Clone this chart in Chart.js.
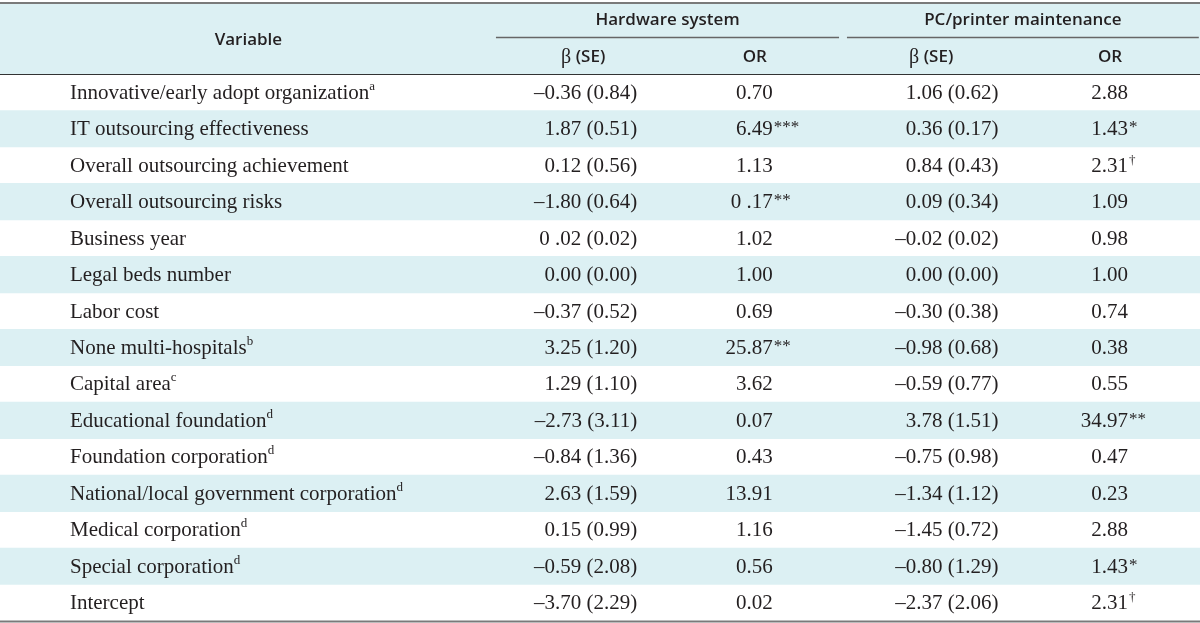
<!DOCTYPE html>
<html>
<head>
<meta charset="utf-8">
<script src="https://cdn.jsdelivr.net/npm/chart.js@4.4.0/dist/chart.umd.min.js"></script>
<style>
html, body { margin: 0; padding: 0; background: #fff; }
#wrap { width: 1200px; height: 623px; }
</style>
</head>
<body>
<div id="wrap"><canvas id="tableChart"></canvas></div>
<script>
// table content
const variables = [
    'Innovative/early adopt organization',
    'IT outsourcing effectiveness',
    'Overall outsourcing achievement',
    'Overall outsourcing risks',
    'Business year',
    'Legal beds number',
    'Labor cost',
    'None multi-hospitals',
    'Capital area',
    'Educational foundation',
    'Foundation corporation',
    'National/local government corporation',
    'Medical corporation',
    'Special corporation',
    'Intercept'
];
const variableNotes = ['a', '', '', '', '', '', '', 'b', 'c', 'd', 'd', 'd', 'd', 'd', ''];

const groups = ['Hardware system', 'PC/printer maintenance'];
const subHeaders = ['β (SE)', 'OR'];

const hwBetaSE = ['–0.36 (0.84)', '1.87 (0.51)', '0.12 (0.56)', '–1.80 (0.64)', '0 .02 (0.02)',
    '0.00 (0.00)', '–0.37 (0.52)', '3.25 (1.20)', '1.29 (1.10)', '–2.73 (3.11)',
    '–0.84 (1.36)', '2.63 (1.59)', '0.15 (0.99)', '–0.59 (2.08)', '–3.70 (2.29)'];
const hwOR = ['0.70', '6.49', '1.13', '0 .17', '1.02', '1.00', '0.69', '25.87', '3.62', '0.07',
    '0.43', '13.91', '1.16', '0.56', '0.02'];
const hwSig = ['', '***', '', '**', '', '', '', '**', '', '', '', '', '', '', ''];

const pcBetaSE = ['1.06 (0.62)', '0.36 (0.17)', '0.84 (0.43)', '0.09 (0.34)', '–0.02 (0.02)',
    '0.00 (0.00)', '–0.30 (0.38)', '–0.98 (0.68)', '–0.59 (0.77)', '3.78 (1.51)',
    '–0.75 (0.98)', '–1.34 (1.12)', '–1.45 (0.72)', '–0.80 (1.29)', '–2.37 (2.06)'];
const pcOR = ['2.88', '1.43', '2.31', '1.09', '0.98', '1.00', '0.74', '0.38', '0.55', '34.97',
    '0.47', '0.23', '2.88', '1.43', '2.31'];
const pcSig = ['', '*', '†', '', '', '', '', '', '', '**', '', '', '', '*', '†'];

// column anchors in percent of the table width
const COL = {
    label: 5.83,
    hwBeta: 53.1, hwOR: 64.4,
    pcBeta: 83.2, pcOR: 94.0,
    varHead: 20.7,
    hwBetaHead: 48.6, hwORHead: 62.9, pcBetaHead: 77.6, pcORHead: 92.5,
    hwLine: [41.33, 69.92], pcLine: [70.58, 99.9]
};

const BAND = '#dcf0f3';
const INK = '#231f20';
const SERIF = '"Liberation Serif", "DejaVu Serif", serif';
const SANS = '"Open Sans", "Noto Sans", sans-serif';
const HEAD_FONT = '600 17px ' + SANS;
const BODY_FONT = '21px ' + SERIF;

// draw a list of [text, font, dy] pieces; align is relative to the whole run
function drawRun(ctx, parts, x, y, align) {
    let total = 0;
    parts.forEach(p => { ctx.font = p[1]; total += ctx.measureText(p[0]).width; });
    let cx = align === 'right' ? x - total : align === 'center' ? x - total / 2 : x;
    ctx.textAlign = 'left';
    parts.forEach(p => {
        ctx.font = p[1];
        ctx.fillText(p[0], cx, y + (p[2] || 0));
        cx += ctx.measureText(p[0]).width;
    });
}

// number right-aligned at x, significance marks hanging to the right
function drawOR(ctx, value, sig, x, y) {
    ctx.font = BODY_FONT;
    ctx.textAlign = 'right';
    ctx.fillText(value, x, y);
    if (sig === '†') {
        ctx.font = '13px ' + SERIF;
        ctx.textAlign = 'left';
        ctx.fillText(sig, x + 1, y - 6);
    } else if (sig) {
        ctx.font = '17px ' + SERIF;
        ctx.textAlign = 'left';
        ctx.fillText(sig, x + 1, y - 2);
    }
}

const tablePlugin = {
    id: 'tablePlugin',
    beforeDraw(chart) {
        const ctx = chart.ctx;
        const top = chart.chartArea.top;
        ctx.save();
        ctx.fillStyle = '#fff';
        ctx.fillRect(0, 0, chart.width, chart.height);
        ctx.fillStyle = BAND;
        ctx.fillRect(0, 4, chart.width, top - 4);
        ctx.restore();
    },
    afterDatasetsDraw(chart) {
        const ctx = chart.ctx;
        const xs = chart.scales.x;
        const ys = chart.scales.y;
        const px = v => xs.getPixelForValue(v);
        const top = chart.chartArea.top;
        const bottom = chart.chartArea.bottom;
        ctx.save();
        ctx.fillStyle = INK;
        ctx.textBaseline = 'middle';

        // header rows
        const h1 = top * 0.27, h2 = top * 0.77;
        ctx.font = HEAD_FONT;
        ctx.textAlign = 'center';
        ctx.fillText('Variable', px(COL.varHead), top * 0.54);
        ctx.fillText(groups[0], px((COL.hwLine[0] + COL.hwLine[1]) / 2), h1);
        ctx.fillText(groups[1], px((COL.pcLine[0] + COL.pcLine[1]) / 2), h1);
        const beta = subHeaders[0];
        [COL.hwBetaHead, COL.pcBetaHead].forEach(c => {
            drawRun(ctx, [[beta.slice(0, 1), '20px ' + SERIF, 1], [beta.slice(1), HEAD_FONT]], px(c), h2, 'center');
        });
        ctx.font = HEAD_FONT;
        ctx.textAlign = 'center';
        ctx.fillText(subHeaders[1], px(COL.hwORHead), h2);
        ctx.fillText(subHeaders[1], px(COL.pcORHead), h2);

        // rules
        ctx.strokeStyle = '#7a7a7a';
        ctx.lineWidth = 2;
        ctx.beginPath(); ctx.moveTo(0, 3); ctx.lineTo(chart.width, 3); ctx.stroke();
        ctx.beginPath(); ctx.moveTo(0, bottom + 0.5); ctx.lineTo(chart.width, bottom + 0.5); ctx.stroke();
        ctx.strokeStyle = '#666';
        ctx.lineWidth = 1.5;
        [COL.hwLine, COL.pcLine].forEach(l => {
            ctx.beginPath(); ctx.moveTo(px(l[0]), 37.5); ctx.lineTo(px(l[1]), 37.5); ctx.stroke();
        });
        ctx.strokeStyle = '#333';
        ctx.lineWidth = 1;
        ctx.beginPath(); ctx.moveTo(0, top + 0.5); ctx.lineTo(chart.width, top + 0.5); ctx.stroke();

        // body cells
        variables.forEach((name, i) => {
            const y = ys.getPixelForValue(i) + 1;
            const parts = [[name, BODY_FONT]];
            if (variableNotes[i]) parts.push([variableNotes[i], '13px ' + SERIF, -7]);
            drawRun(ctx, parts, px(COL.label), y, 'left');

            ctx.font = BODY_FONT;
            ctx.textAlign = 'right';
            ctx.fillText(hwBetaSE[i], px(COL.hwBeta), y);
            ctx.fillText(pcBetaSE[i], px(COL.pcBeta), y);
            drawOR(ctx, hwOR[i], hwSig[i], px(COL.hwOR), y);
            drawOR(ctx, pcOR[i], pcSig[i], px(COL.pcOR), y);
        });
        ctx.restore();
    }
};

// shaded bands on every second row, drawn as full-width bars
const bandData = variables.map((_, i) => (i % 2 === 1 ? 100 : null));

new Chart(document.getElementById('tableChart'), {
    type: 'bar',
    data: {
        labels: variables,
        datasets: [{
            data: bandData,
            backgroundColor: BAND,
            borderWidth: 0,
            barPercentage: 1,
            categoryPercentage: 1
        }]
    },
    options: {
        indexAxis: 'y',
        responsive: true,
        maintainAspectRatio: false,
        animation: false,
        layout: { padding: { top: 74, bottom: 2, left: 0, right: 0 } },
        scales: {
            x: { type: 'linear', min: 0, max: 100, display: false },
            y: { type: 'category', display: false }
        },
        plugins: {
            legend: { display: false },
            tooltip: { enabled: false }
        }
    },
    plugins: [tablePlugin]
});
</script>
</body>
</html>
